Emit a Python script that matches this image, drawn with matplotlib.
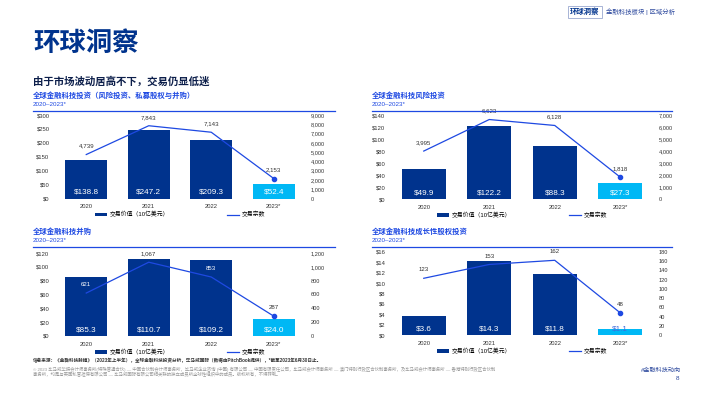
import matplotlib
matplotlib.use("Agg")
import matplotlib.pyplot as plt
from matplotlib.patches import Patch
from matplotlib.lines import Line2D

plt.rcParams['font.family'] = ['Liberation Sans', 'Noto Sans CJK SC', 'DejaVu Sans']

# ---------------- data ----------------
years = ['2020', '2021', '2022', '2023*']

total_value = [138.8, 247.2, 209.3, 52.4]
total_count = [4739, 7843, 7143, 2153]

vc_value = [49.9, 122.2, 88.3, 27.3]
vc_count = [3995, 6623, 6128, 1818]

ma_value = [85.3, 110.7, 109.2, 24.0]
ma_count = [621, 1067, 853, 287]

pe_value = [3.6, 14.3, 11.8, 1.1]
pe_count = [123, 153, 162, 48]

titles = ['全球金融科技投资（风险投资、私募股权与并购）', '全球金融科技风险投资',
          '全球金融科技并购', '全球金融科技成长性股权投资']
period = '2020–2023*'
legend_labels = ['交易价值（10亿美元）', '交易宗数']

# ---------------- style ----------------
W, H = 710, 399
NAVY = '#00338D'
CYAN = '#00B8F5'
COBALT = '#1E49E2'
TXT = '#333333'

fig = plt.figure(figsize=(W / 100, H / 100), dpi=100)
fig.patch.set_facecolor('white')


def fx(x):
    return x / W


def fy(y):
    return 1 - y / H


def chart(rect, values, counts, lmax, lstep, rmax, rstep):
    x0, y_top, x1, y_bot = rect
    ax_h_px = y_bot - y_top
    ax = fig.add_axes([fx(x0), fy(y_bot), (x1 - x0) / W, ax_h_px / H])
    xs = list(range(len(years)))
    colors = [NAVY] * (len(years) - 1) + [CYAN]
    ax.bar(xs, values, width=0.67, color=colors, zorder=2)
    ax.set_xlim(-0.5, len(years) - 0.5)
    ax.set_ylim(0, lmax)
    ax.set_yticks([i * lstep for i in range(int(round(lmax / lstep)) + 1)])
    ax.set_yticklabels(['$' + f'{int(t)}' for t in ax.get_yticks()])
    ax.set_xticks(xs)
    ax.set_xticklabels(years)
    ax.tick_params(axis='both', length=0, labelsize=4.2, colors=TXT, pad=4)
    for s in ax.spines.values():
        s.set_visible(False)
    for xi, v in zip(xs, values):
        small = v / lmax < 0.1
        ax.annotate('$' + f'{v:.1f}', (xi, 0), xytext=(0, 4.5), textcoords='offset points',
                    ha='center', va='center', fontsize=5.9,
                    color=('#3F6BDB' if small else 'white'), zorder=5)
    ax2 = ax.twinx()
    ax2.set_ylim(0, rmax)
    ax2.set_yticks([i * rstep for i in range(int(round(rmax / rstep)) + 1)])
    ax2.set_yticklabels([f'{int(t):,}' for t in ax2.get_yticks()])
    ax2.tick_params(axis='y', length=0, labelsize=4.1, colors=TXT, pad=4)
    for s in ax2.spines.values():
        s.set_visible(False)
    ax2.plot(xs, counts, color=COBALT, lw=0.9, zorder=3)
    ax2.plot(xs[-1:], counts[-1:], 'o', color=COBALT, ms=3, zorder=4)
    off_pt = 6
    for xi, c, v in zip(xs, counts, values):
        label_frac = c / rmax + off_pt * 1.389 / ax_h_px
        inside = label_frac + 3.0 / ax_h_px < v / lmax
        ax2.annotate(f'{c:,}', (xi, c), xytext=(0, off_pt), textcoords='offset points',
                     ha='center', va='center', fontsize=4.4,
                     color=('white' if inside else TXT), zorder=6)
    handles = [Patch(facecolor=NAVY, edgecolor='none'), Line2D([], [], color=COBALT, lw=0.9)]
    ax.legend(handles, legend_labels, loc='center', bbox_to_anchor=(0.5, -0.19), ncol=2,
              frameon=False, fontsize=4.2, handlelength=2.1, handleheight=0.55,
              handletextpad=0.4, columnspacing=10, borderpad=0)
    return ax


def header(x, y_title, x_end, title):
    fig.text(fx(x), fy(y_title), title, fontsize=5.3, fontweight='bold', color=COBALT,
             ha='left', va='center')
    fig.text(fx(x), fy(y_title + 8), period, fontsize=4.5, color=COBALT, ha='left', va='center')
    fig.add_artist(Line2D([fx(x), fx(x_end)], [fy(y_title + 14.5)] * 2, color=COBALT, lw=0.9))


# headers
header(33, 96.5, 335, titles[0])
header(372, 96.5, 672, titles[1])
header(33, 232, 335, titles[2])
header(372, 232, 672, titles[3])

chart((55, 115, 305, 198.5), total_value, total_count, 300, 50, 9000, 1000)
chart((391, 115, 653, 199), vc_value, vc_count, 140, 20, 7000, 1000)
chart((55, 253, 305, 336), ma_value, ma_count, 120, 20, 1200, 200)
chart((391, 252, 653, 335), pe_value, pe_count, 16, 2, 180, 20)

# page title
fig.text(fx(33), fy(43.5), '环球洞察', fontsize=19, fontweight='bold', color=NAVY,
         ha='left', va='center')
fig.text(fx(33), fy(81), '由于市场波动居高不下，交易仍显低迷', fontsize=7.5, fontweight='bold',
         color='#0C1E4A', ha='left', va='center')

# top-right tag
fig.text(fx(585), fy(12), '环球洞察', fontsize=5.3, fontweight='bold', color=NAVY,
         ha='center', va='center',
         bbox=dict(boxstyle='square,pad=0.25', facecolor='white', edgecolor='#9AA8D0', lw=0.6))
fig.text(fx(606), fy(12), '金融科技板块 | 区域分析', fontsize=4.6, color='#2E4A9E',
         ha='left', va='center')

# footer
fig.text(fx(33), fy(361), '信息来源：《金融科技脉搏》（2023年上半年），全球金融科技投资分析，毕马威国际（数据由PitchBook提供），*截至2023年6月30日止。',
         fontsize=3.3, fontweight='bold', color='#333333', ha='left', va='center')
fig.text(fx(33), fy(369.5), '© 2023 毕马威华振会计师事务所(特殊普通合伙) — 中国合伙制会计师事务所，毕马威企业咨询 (中国) 有限公司 — 中国有限责任公司，毕马威会计师事务所 — 澳门特别行政区合伙制事务所，及毕马威会计师事务所 — 香港特别行政区合伙制',
         fontsize=3.2, color='#9A9A9A', ha='left', va='center')
fig.text(fx(33), fy(375), '事务所，均是与英国私营担保有限公司 — 毕马威国际有限公司相关联的独立成员所全球性组织中的成员。版权所有，不得转载。',
         fontsize=3.2, color='#9A9A9A', ha='left', va='center')
fig.text(fx(681), fy(370), '#金融科技动向', fontsize=4.4, color='#2E4A9E', ha='right', va='center')
fig.text(fx(678), fy(379), '8', fontsize=4.6, color='#2E4A9E', ha='center', va='center')

fig.savefig('out.png', dpi=100, facecolor='white')
